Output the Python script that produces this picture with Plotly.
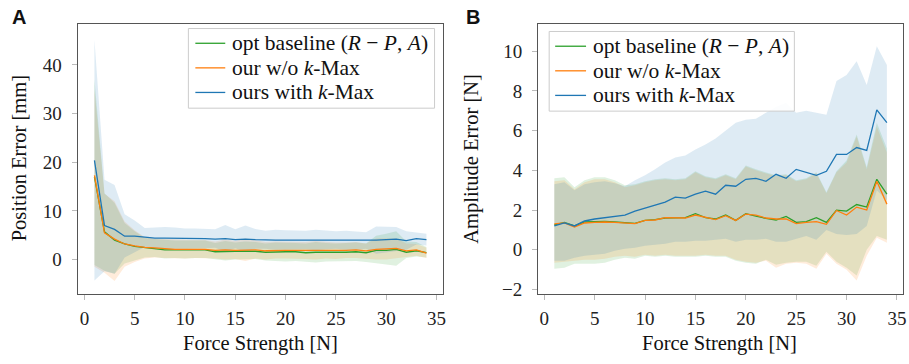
import plotly.graph_objects as go

force = list(range(1, 35))

# ---- Panel A: Position Error [mm] ----
a_green_mean = [17.0, 5.7, 4.0, 3.2, 2.7, 2.5, 2.3, 2.0, 2.0, 2.0, 2.0, 2.0, 1.6, 1.7, 1.7, 1.7, 1.7,
                1.5, 1.6, 1.6, 1.6, 1.4, 1.5, 1.5, 1.4, 1.5, 1.6, 1.4, 1.9, 1.9, 2.1, 1.5, 1.8, 1.4]
a_green_upper = [37.0, 13.6, 11.6, 7.5, 5.8, 4.5, 4.2, 4.0, 3.9, 3.9, 3.9, 3.9, 3.4, 3.8, 3.5, 3.7, 3.6,
                 3.3, 3.5, 3.5, 3.4, 3.3, 3.6, 3.4, 3.3, 3.4, 3.5, 3.3, 4.9, 5.3, 5.8, 3.7, 3.6, 2.6]
a_green_lower = [-1.1, -2.3, -2.9, -0.8, -0.2, 0.4, 0.5, 0.2, 0.3, 0.2, 0.3, 0.3, 0.0, -0.2, 0.0, 0.1, 0.1,
                 -0.2, -0.3, -0.4, -0.3, -0.5, -0.6, -0.4, -0.4, -0.3, -0.3, -0.5, -0.8, -1.0, -1.3, 0.3, 0.6, 0.4]

a_orange_mean = [17.3, 5.5, 4.2, 3.2, 2.8, 2.5, 2.4, 2.2, 2.1, 2.1, 2.1, 2.1, 1.9, 2.0, 1.9, 2.0, 2.0,
                 1.8, 1.9, 1.9, 1.9, 1.9, 1.9, 1.9, 1.8, 1.9, 2.0, 1.8, 2.1, 2.2, 2.3, 1.8, 2.0, 1.3]
a_orange_upper = [35.0, 13.5, 12.0, 7.8, 6.0, 4.6, 4.3, 4.2, 4.1, 4.0, 4.0, 4.0, 3.7, 4.1, 3.8, 4.3, 3.9,
                  3.6, 3.7, 3.7, 3.6, 3.6, 3.8, 3.6, 3.5, 3.5, 3.6, 3.3, 4.3, 4.4, 4.3, 3.3, 3.2, 2.4]
a_orange_lower = [-1.5, -2.7, -4.4, -1.5, -0.5, 0.2, 0.4, 0.3, 0.2, 0.2, 0.3, 0.3, 0.2, 0.0, 0.1, -0.3, 0.2,
                  0.0, 0.2, 0.2, 0.2, 0.1, 0.0, 0.2, 0.1, 0.3, 0.3, 0.2, 0.0, 0.0, 0.3, 0.5, 0.8, 0.3]

a_blue_mean = [20.4, 7.0, 6.2, 4.8, 4.8, 4.6, 4.4, 4.4, 4.4, 4.3, 4.3, 4.3, 4.2, 4.3, 4.1, 4.2, 4.1,
               4.0, 4.0, 4.0, 4.0, 4.0, 4.0, 4.0, 4.0, 3.9, 3.9, 3.9, 4.0, 4.1, 4.2, 3.9, 4.3, 4.1]
a_blue_upper = [45.2, 16.4, 15.3, 9.3, 8.0, 6.5, 6.6, 6.7, 6.6, 6.4, 6.4, 6.3, 6.2, 7.1, 6.2, 7.0, 6.3,
                5.9, 6.1, 6.0, 5.9, 5.9, 6.1, 5.9, 5.8, 5.9, 5.8, 5.6, 6.8, 6.8, 6.7, 5.8, 5.5, 5.3]
a_blue_lower = [-4.3, -2.4, -2.9, 0.4, 1.5, 2.6, 2.3, 2.1, 2.2, 2.2, 2.2, 2.3, 2.4, 1.6, 2.3, 1.6, 2.2,
                2.2, 2.0, 2.0, 2.1, 2.1, 1.9, 2.1, 2.2, 2.0, 2.0, 2.2, 1.2, 1.4, 1.7, 2.0, 3.1, 2.9]

# ---- Panel B: Amplitude Error [N] ----
b_green_mean = [1.25, 1.38, 1.2, 1.4, 1.42, 1.43, 1.4, 1.37, 1.33, 1.48, 1.52, 1.6, 1.6, 1.62, 1.82, 1.62, 1.55,
                1.75, 1.48, 1.82, 1.7, 1.58, 1.5, 1.68, 1.38, 1.42, 1.62, 1.38, 2.0, 1.95, 2.28, 2.15, 3.55, 2.8]
b_green_upper = [3.6, 3.65, 3.15, 3.5, 3.65, 3.65, 3.5, 3.25, 3.3, 3.45, 3.55, 3.6, 3.55, 3.6, 3.95, 3.7, 3.6,
                 3.8, 3.6, 4.25, 4.05, 3.9, 3.75, 3.8, 3.5, 3.6, 3.9, 2.9, 3.95, 4.5, 5.8, 4.15, 6.4, 5.1]
b_green_lower = [-0.95, -0.9, -0.7, -0.7, -0.7, -0.65, -0.5, -0.4, -0.45, -0.3, -0.35, -0.3, -0.35, -0.35, -0.35, -0.3, -0.35,
                 -0.35, -0.55, -0.65, -0.7, -0.5, -0.75, -0.65, -0.6, -0.6, -0.8, -0.1, -0.6, -0.9, -1.3, 0.0, 0.7, 0.5]

b_orange_mean = [1.3, 1.35, 1.15, 1.35, 1.38, 1.4, 1.38, 1.35, 1.32, 1.48, 1.5, 1.62, 1.62, 1.6, 1.75, 1.65, 1.52,
                 1.72, 1.48, 1.8, 1.75, 1.6, 1.55, 1.55, 1.32, 1.38, 1.42, 1.28, 1.98, 1.75, 2.15, 2.0, 3.45, 2.3]
b_orange_upper = [3.45, 3.5, 3.05, 3.4, 3.55, 3.55, 3.4, 3.15, 3.25, 3.4, 3.5, 3.55, 3.5, 3.55, 3.9, 3.65, 3.55,
                  3.75, 3.55, 4.2, 4.0, 3.85, 3.7, 3.75, 3.45, 3.55, 3.85, 2.85, 3.9, 4.4, 5.7, 4.05, 6.2, 4.9]
b_orange_lower = [-0.65, -0.6, -0.55, -0.5, -0.5, -0.45, -0.35, -0.3, -0.35, -0.25, -0.3, -0.25, -0.3, -0.3, -0.3, -0.25, -0.3,
                  -0.3, -0.5, -0.6, -0.65, -0.55, -0.9, -0.7, -0.65, -0.7, -0.95, -0.2, -0.7, -1.0, -1.55, -0.3, 0.6, 0.35]

b_blue_mean = [1.2, 1.35, 1.2, 1.45, 1.55, 1.62, 1.67, 1.75, 1.95, 2.1, 2.25, 2.4, 2.65, 2.6, 2.8, 2.95, 2.8,
               3.25, 3.2, 3.55, 3.6, 3.45, 3.8, 3.6, 4.05, 3.9, 3.75, 3.95, 4.8, 4.8, 5.15, 5.0, 7.05, 6.4]
b_blue_upper = [3.3, 3.4, 3.0, 3.3, 3.4, 3.45, 3.35, 3.2, 3.5, 3.75, 4.05, 4.4, 4.65, 4.75, 5.05, 5.3, 5.6,
                6.0, 6.4, 6.55, 6.6, 6.9, 7.2, 7.4, 6.9, 7.0, 6.9, 6.8, 8.5, 8.8, 9.5, 8.3, 10.25, 9.3]
b_blue_lower = [-0.55, -0.55, -0.4, -0.3, -0.25, -0.2, -0.05, 0.05, 0.1, 0.2, 0.25, 0.3, 0.4, 0.4, 0.45, 0.45, 0.5,
                0.55, 0.4, 0.5, 0.5, 0.55, 0.4, 0.4, 0.55, 0.7, 0.5, 1.0, 0.8, 0.75, 0.8, 1.2, 3.0, 2.5]

x_ticks = [0, 5, 10, 15, 20, 25, 30, 35]
a_y_ticks = [0, 10, 20, 30, 40]
b_y_ticks = [-2, 0, 2, 4, 6, 8, 10]

series_names = ["opt baseline (<i>R</i> − <i>P</i>, <i>A</i>)", "our w/o <i>k</i>-Max", "ours with <i>k</i>-Max"]
line_colors = ["#2ca02c", "#ff7f0e", "#1f77b4"]
fill_colors = ["rgba(44,160,44,0.15)", "rgba(255,127,14,0.15)", "rgba(31,119,180,0.15)"]

SERIF = "Liberation Serif"
W, H = 909, 364

fig = go.Figure()

panels = [
    ("x", "y", [(a_green_mean, a_green_lower, a_green_upper),
                (a_orange_mean, a_orange_lower, a_orange_upper),
                (a_blue_mean, a_blue_lower, a_blue_upper)]),
    ("x2", "y2", [(b_green_mean, b_green_lower, b_green_upper),
                  (b_orange_mean, b_orange_lower, b_orange_upper),
                  (b_blue_mean, b_blue_lower, b_blue_upper)]),
]

for xa, ya, data in panels:
    for i, (m, lo, up) in enumerate(data):
        fig.add_trace(go.Scatter(
            x=force + force[::-1], y=up + lo[::-1], fill="toself",
            fillcolor=fill_colors[i], line=dict(width=0), mode="lines",
            hoverinfo="skip", showlegend=False, xaxis=xa, yaxis=ya))
    for i, (m, lo, up) in enumerate(data):
        fig.add_trace(go.Scatter(
            x=force, y=m, mode="lines", name=series_names[i],
            line=dict(color=line_colors[i], width=1.3),
            showlegend=False, xaxis=xa, yaxis=ya))

axis_common = dict(
    showgrid=False, zeroline=False, showline=True, mirror=True,
    linecolor="#555555", linewidth=1.2, ticks="outside", ticklen=5,
    tickcolor="#bbbbbb", tickfont=dict(family=SERIF, size=19, color="#222"),
)

fig.update_layout(
    width=W, height=H, margin=dict(l=0, r=0, t=0, b=0),
    paper_bgcolor="white", plot_bgcolor="white", showlegend=False,
    xaxis=dict(domain=[78 / W, 444 / W], range=[-0.66, 35.6], tickvals=x_ticks,
               anchor="y", ticklabelstandoff=2, **axis_common),
    yaxis=dict(domain=[65 / H, 340 / H], range=[-7.1, 48.5], tickvals=a_y_ticks,
               anchor="x", ticklabelstandoff=6, **axis_common),
    xaxis2=dict(domain=[540 / W, 906 / W], range=[-0.6, 35.6], tickvals=x_ticks,
                anchor="y2", ticklabelstandoff=2, **axis_common),
    yaxis2=dict(domain=[65 / H, 340 / H], range=[-2.23, 11.39], tickvals=b_y_ticks,
                anchor="x2", ticklabelstandoff=6, **axis_common),
)

# Legends drawn as boxes + line samples + text (pixel positions from top-left)
legend_boxes = [
    dict(x0=189, x1=436, y0=29, y1=110, rows=[44, 69, 94], lx0=196, lx1=226, tx=231),
    dict(x0=551, x1=797, y0=32, y1=113, rows=[47, 72, 97], lx0=557, lx1=588, tx=593),
]

shapes = []
annotations = []
for lb in legend_boxes:
    shapes.append(dict(type="rect", xref="paper", yref="paper",
                       x0=lb["x0"] / W, x1=lb["x1"] / W, y0=1 - lb["y1"] / H, y1=1 - lb["y0"] / H,
                       line=dict(color="#cccccc", width=1), fillcolor="rgba(255,255,255,0.9)", layer="above"))
    for i, ry in enumerate(lb["rows"]):
        shapes.append(dict(type="line", xref="paper", yref="paper",
                           x0=lb["lx0"] / W, x1=lb["lx1"] / W, y0=1 - ry / H, y1=1 - ry / H,
                           line=dict(color=line_colors[i], width=1.3), layer="above"))
        annotations.append(dict(text=series_names[i], x=lb["tx"] / W, y=1 - ry / H,
                                xanchor="left", yanchor="middle",
                                font=dict(family=SERIF, size=21.5, color="#111")))

annotations += [
    dict(text="<b>A</b>", x=19 / W, y=1 - 17 / H, xanchor="center", yanchor="middle",
         font=dict(family="Liberation Sans", size=20, color="#111")),
    dict(text="<b>B</b>", x=475 / W, y=1 - 17 / H, xanchor="center", yanchor="middle",
         font=dict(family="Liberation Sans", size=20, color="#111")),
    dict(text="Force Strength [N]", x=261 / W, y=1 - 349 / H, xanchor="center", yanchor="middle",
         font=dict(family=SERIF, size=20.5, color="#111")),
    dict(text="Force Strength [N]", x=722 / W, y=1 - 349 / H, xanchor="center", yanchor="middle",
         font=dict(family=SERIF, size=20.5, color="#111")),
    dict(text="Position Error [mm]", x=19 / W, y=1 - 161 / H, xanchor="center", yanchor="middle",
         textangle=-90, font=dict(family=SERIF, size=20.5, color="#111")),
    dict(text="Amplitude Error [N]", x=473 / W, y=1 - 161 / H, xanchor="center", yanchor="middle",
         textangle=-90, font=dict(family=SERIF, size=20.5, color="#111")),
]
for a in annotations:
    a.update(xref="paper", yref="paper", showarrow=False)
fig.update_layout(annotations=annotations, shapes=shapes)

fig.write_html("out.html", config={"displayModeBar": False},
               post_script="document.body.style.margin='0';document.body.style.overflow='hidden';")
